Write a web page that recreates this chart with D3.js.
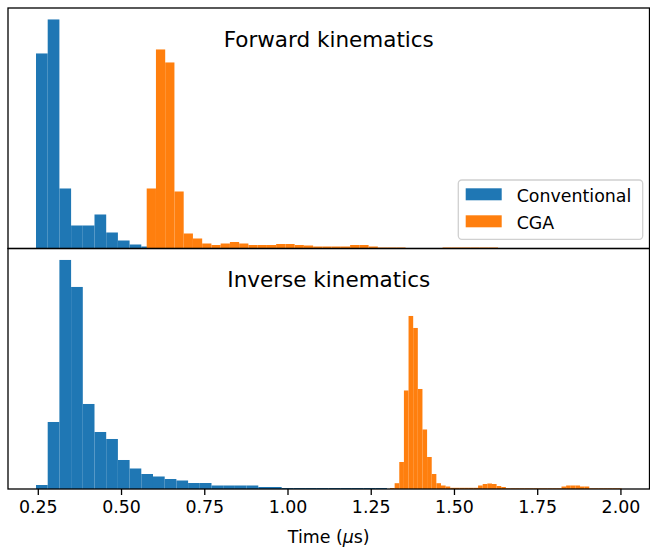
<!DOCTYPE html>
<html>
<head>
<meta charset="utf-8">
<script src="https://cdn.jsdelivr.net/npm/d3@7"></script>
<style>
    body { margin: 0; background: #fff; }
    svg text { font-family: "DejaVu Sans", sans-serif; fill: #000; }
</style>
</head>
<body>
<div class="container"></div>
<script>
const seriesNames = ["Conventional", "CGA"];
const seriesColors = ["#1f77b4", "#ff7f0e"];
const panelTitles = ["Forward kinematics", "Inverse kinematics"];
const xTicks = [0.25, 0.5, 0.75, 1.0, 1.25, 1.5, 1.75, 2.0];

// histogram bins: first edge (us), bin width (us), bar heights
const fkConvStart = 0.2446, fkConvWidth = 0.03514;
const fkConvCounts = [195, 229, 60, 23, 23, 34, 16, 8, 4, 2];

const fkCgaStart = 0.5771, fkCgaWidth = 0.02777;
const fkCgaCounts = [60, 199, 186, 57, 15, 10, 5, 3.5, 5, 6.5, 5, 3.5, 3.5, 3.5, 4.5, 4.5,
    3.5, 3, 2, 2, 2, 2, 3.5, 3.5, 2, 1, 1, 1, 0, 0, 0, 0, 1, 1, 1, 1, 1, 1];

const ikConvStart = 0.2446, ikConvWidth = 0.03514;
const ikConvCounts = [4, 67, 229, 202, 85, 57, 50, 29, 20.5, 15, 12.5, 10, 8.5, 6, 6,
    3.5, 3.5, 3.5, 3.5, 2, 2, 1, 1, 1, 1, 1, 1, 1, 1, 1];

const ikCgaStart = 1.3079, ikCgaWidth = 0.01392;
const ikCgaCounts = [1, 5.8, 27, 98.5, 173, 161, 100, 59.5, 32, 15, 5.8, 3.5, 2.5,
    1.2, 1.2, 1.2, 1.2, 1.2, 1.2, 3.5, 5, 5.5, 5, 3, 2,
    0.7, 0.7, 0.7, 0.7, 0.7, 0.7, 0.7, 0.7, 0.7, 0.7, 0.7, 0.7,
    2.5, 3.5, 3.5, 3.5, 2.5, 2.5, 0.7, 0.7, 0.7, 0.7, 0.7, 0.7, 0.7];

const panels = [
    {
        title: panelTitles[0],
        series: [
            { name: seriesNames[0], color: seriesColors[0], start: fkConvStart, width: fkConvWidth, counts: fkConvCounts },
            { name: seriesNames[1], color: seriesColors[1], start: fkCgaStart, width: fkCgaWidth, counts: fkCgaCounts }
        ]
    },
    {
        title: panelTitles[1],
        series: [
            { name: seriesNames[0], color: seriesColors[0], start: ikConvStart, width: ikConvWidth, counts: ikConvCounts },
            { name: seriesNames[1], color: seriesColors[1], start: ikCgaStart, width: ikCgaWidth, counts: ikCgaCounts }
        ]
    }
];

const w = 650, h = 548,
    margin = { top: 8, left: 8, right: 0.5 },
    panelH = 240.5;

const svg = d3.select("div.container")
    .append("svg")
    .attr("width", w)
    .attr("height", h);

const x = d3.scaleLinear()
    .domain([0.1605, 2.0873])
    .range([margin.left, w - margin.right]);

panels.forEach((p, i) => {
    const top = margin.top + i * panelH,
        bottom = top + panelH;
    const maxV = d3.max(p.series, s => d3.max(s.counts));
    const y = d3.scaleLinear()
        .domain([0, maxV * 1.05])
        .range([bottom, top]);

    const g = svg.append("g").attr("class", "panel");

    p.series.forEach(s => {
        g.append("g")
            .selectAll("rect")
            .data(s.counts)
            .enter()
            .append("rect")
            .attr("x", (d, k) => x(s.start + k * s.width))
            .attr("width", (d, k) => x(s.start + (k + 1) * s.width) - x(s.start + k * s.width))
            .attr("y", d => y(d))
            .attr("height", d => y(0) - y(d))
            .attr("fill", s.color);
    });

    g.append("rect")
        .attr("x", x.range()[0])
        .attr("y", top)
        .attr("width", x.range()[1] - x.range()[0])
        .attr("height", panelH)
        .attr("fill", "none")
        .attr("stroke", "#000")
        .attr("stroke-width", 1.3);

    g.append("text")
        .attr("x", (x.range()[0] + x.range()[1]) / 2)
        .attr("y", top + 38.7)
        .attr("text-anchor", "middle")
        .attr("font-size", 21.5)
        .text(p.title);
});

// legend (top panel)
const legend = svg.append("g").attr("id", "legend");
legend.append("rect")
    .attr("x", 458.3)
    .attr("y", 180)
    .attr("width", 184.4)
    .attr("height", 59.3)
    .attr("rx", 3.5)
    .attr("fill", "rgba(255,255,255,0.8)")
    .attr("stroke", "#d0d0d0")
    .attr("stroke-width", 1.3);

legend.selectAll("g.item")
    .data(seriesNames)
    .enter()
    .append("g")
    .attr("class", "item")
    .attr("transform", (d, i) => "translate(0," + (i * 27) + ")")
    .each(function (d, i) {
        d3.select(this).append("rect")
            .attr("x", 465.7)
            .attr("y", 188.3)
            .attr("width", 36)
            .attr("height", 12)
            .attr("fill", seriesColors[i]);
        d3.select(this).append("text")
            .attr("x", 516.7)
            .attr("y", 201.5)
            .attr("font-size", 17.4)
            .text(d);
    });

// shared x axis under the bottom panel
const axisY = margin.top + 2 * panelH;
const xAxis = svg.append("g")
    .attr("transform", "translate(0," + axisY + ")")
    .call(d3.axisBottom(x)
        .tickValues(xTicks)
        .tickFormat(d3.format(".2f"))
        .tickSize(6)
        .tickPadding(6));
xAxis.select(".domain").remove();
xAxis.selectAll("line").attr("stroke", "#000").attr("stroke-width", 1.3);
xAxis.selectAll("text")
    .attr("font-size", 17.4)
    .attr("font-family", "DejaVu Sans, sans-serif")
    .attr("fill", "#000");

const xLabel = svg.append("text")
    .attr("x", (x.range()[0] + x.range()[1]) / 2)
    .attr("y", 543)
    .attr("text-anchor", "middle")
    .attr("font-size", 17.4);
xLabel.append("tspan").text("Time (");
xLabel.append("tspan").attr("font-style", "italic").text("\u03bc");
xLabel.append("tspan").text("s)");
</script>
</body>
</html>
